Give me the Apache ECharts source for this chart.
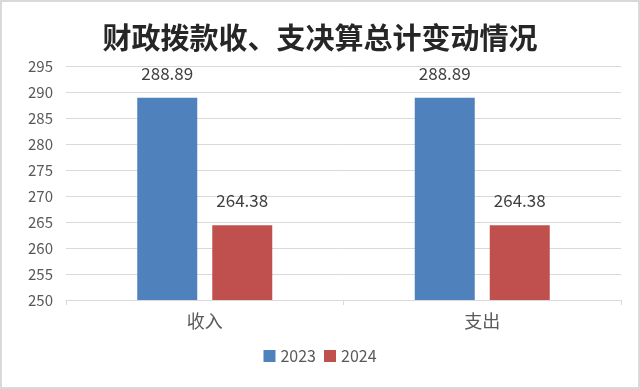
<!DOCTYPE html>
<html><head><meta charset="utf-8">
<script src="https://cdn.jsdelivr.net/npm/echarts@6/dist/echarts.min.js"></script>
<style>html,body{margin:0;padding:0;background:#fff}#c{width:640px;height:389px}</style>
</head><body><div id="c"></div>
<script>
const titleText = '财政拨款收、支决算总计变动情况';
const categories = ['收入', '支出'];
const seriesNames = ['2023', '2024'];
const values2023 = [288.89, 288.89];
const values2024 = [264.38, 264.38];
const yMin = 250, yMax = 295, yStep = 5;

const chart = echarts.init(document.getElementById('c'));
const labelStyle = {show: true, position: 'top', distance: 16, color: '#404040', fontSize: 17, fontFamily: 'Noto Sans CJK SC', formatter: p => p.value.toFixed(2)};
chart.setOption({
  animation: false,
  graphic: [{type: 'rect', shape: {x: 1, y: 1, width: 638, height: 387}, style: {fill: 'none', stroke: '#d9d9d9', lineWidth: 2}, z: 100}],
  title: {text: titleText, left: 'center', top: 18, textStyle: {fontSize: 29, fontWeight: 'bold', color: '#262626', fontFamily: 'Noto Sans CJK SC'}},
  grid: {left: 66, right: 19, top: 66, bottom: 89},
  legend: {data: seriesNames, bottom: 20, left: 'center', itemWidth: 12, itemHeight: 12, itemGap: 8, icon: 'rect',
    textStyle: {fontSize: 16, color: '#595959', fontFamily: 'Noto Sans CJK SC'}},
  xAxis: {type: 'category', data: categories,
    axisLine: {lineStyle: {color: '#d9d9d9'}},
    axisTick: {show: true, length: 5, lineStyle: {color: '#d9d9d9'}},
    axisLabel: {fontSize: 18, color: '#595959', margin: 12, fontFamily: 'Noto Sans CJK SC'}},
  yAxis: {type: 'value', min: yMin, max: yMax, interval: yStep,
    axisLine: {show: false}, axisTick: {show: false},
    splitLine: {lineStyle: {color: '#d9d9d9'}},
    axisLabel: {fontSize: 15, color: '#595959', margin: 13, fontFamily: 'Noto Sans CJK SC'}},
  series: [
    {name: seriesNames[0], type: 'bar', data: values2023, barWidth: 60, barGap: '25%', itemStyle: {color: '#4f81bd'}, label: labelStyle},
    {name: seriesNames[1], type: 'bar', data: values2024, barWidth: 60, barGap: '25%', itemStyle: {color: '#c0504d'}, label: labelStyle}
  ]
});
</script></body></html>
